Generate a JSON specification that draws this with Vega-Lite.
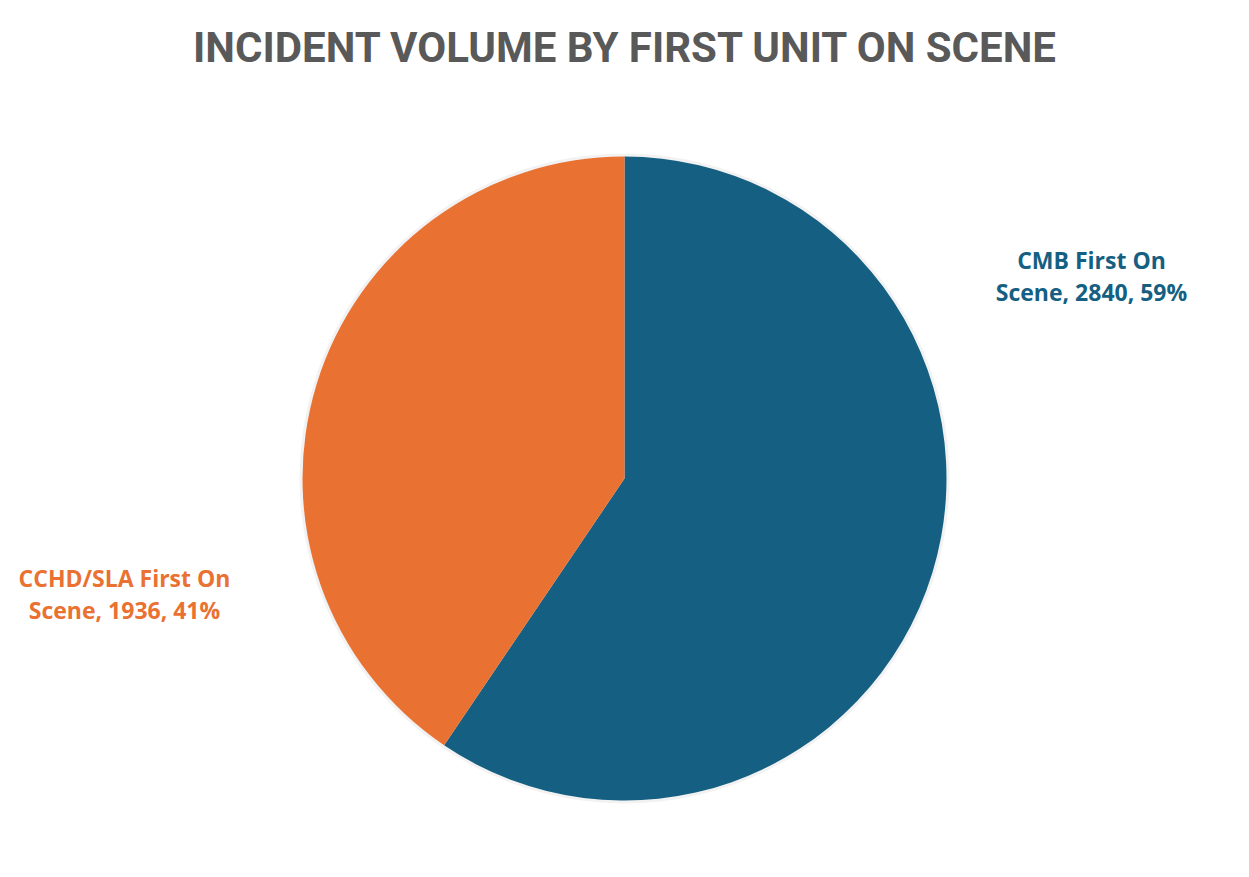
{
  "$schema": "https://vega.github.io/schema/vega-lite/v6.json",
  "width": 1249,
  "height": 877,
  "autosize": {"type": "fit", "contains": "padding"},
  "padding": {"top": 28, "bottom": 0, "left": 0, "right": 0},
  "background": "#ffffff",
  "title": {
    "text": "INCIDENT VOLUME BY FIRST UNIT ON SCENE",
    "font": "Roboto",
    "fontSize": 42,
    "fontWeight": "bold",
    "color": "#595959",
    "anchor": "middle",
    "offset": 9
  },
  "config": {"view": {"stroke": null}},
  "data": {
    "values": [
      {"category": "CMB First On Scene", "value": 2840, "label": ["CMB First On", "Scene, 2840, 59%"], "ord": 1},
      {"category": "CCHD/SLA First On Scene", "value": 1936, "label": ["CCHD/SLA First On", "Scene, 1936, 41%"], "ord": 2}
    ]
  },
  "encoding": {
    "theta": {"field": "value", "type": "quantitative", "stack": true},
    "order": {"field": "ord", "type": "quantitative"}
  },
  "layer": [
    {
      "mark": {"type": "arc", "outerRadius": 325, "fill": "#000000", "opacity": 0.05}
    },
    {
      "mark": {"type": "arc", "outerRadius": 322},
      "encoding": {
        "color": {
          "field": "category",
          "type": "nominal",
          "scale": {"domain": ["CMB First On Scene", "CCHD/SLA First On Scene"], "range": ["#156082", "#E97132"]},
          "legend": null
        }
      }
    },
    {
      "mark": {"type": "text", "radius": 0, "dx": 467, "dy": -217, "font": "Open Sans", "fontWeight": "bold", "fontSize": 23, "letterSpacing": 1, "align": "center", "baseline": "middle", "lineHeight": 32, "fill": "#156082"},
      "encoding": {
        "text": {"condition": {"test": "datum.ord == 1", "field": "label"}, "value": ""}
      }
    },
    {
      "mark": {"type": "text", "radius": 0, "dx": -500, "dy": 101, "font": "Open Sans", "fontWeight": "bold", "fontSize": 23, "letterSpacing": 1, "align": "center", "baseline": "middle", "lineHeight": 32, "fill": "#E97132"},
      "encoding": {
        "text": {"condition": {"test": "datum.ord == 2", "field": "label"}, "value": ""}
      }
    }
  ]
}
